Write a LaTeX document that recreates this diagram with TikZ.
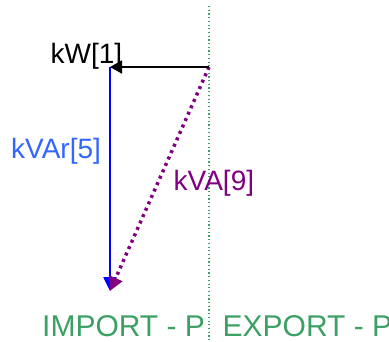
\documentclass[tikz,border=0pt]{standalone}
\usepackage{fontspec}
\setmainfont{Liberation Sans}
\usetikzlibrary{arrows.meta}
\definecolor{axgreen}{RGB}{60,160,100}
\definecolor{qblue}{RGB}{0,0,255}
\definecolor{qlabel}{RGB}{51,102,255}
\definecolor{spurple}{RGB}{128,0,128}
\begin{document}
\begin{tikzpicture}[x=1pt,y=-1pt,
  lbl/.style={inner sep=0pt,anchor=base west,font=\fontsize{28}{28}\selectfont},
  axlbl/.style={inner sep=0pt,anchor=base west,font=\fontsize{30}{30}\selectfont,text=axgreen},
  tipA/.style={-{Triangle[length=12pt,width=13pt]}}]
\useasboundingbox (0,0) rectangle (389,341);
\coordinate (top) at (209,6);
\coordinate (bot) at (209,341);
\coordinate (O) at (209,67);
\coordinate (A) at (110,67);
\coordinate (B) at (110,291);
\draw[axgreen,line width=1.2pt,dash pattern=on 1.2pt off 2.5pt] (top) -- (bot);
\draw[qblue,line width=2.5pt,-{Triangle[length=14pt,width=13pt]}] (A) -- (B);
\draw[spurple,line width=3.5pt,dash pattern=on 3pt off 4pt,-{Triangle[length=14pt,width=14pt]}] (O) -- (B);
\draw[black,line width=1.8pt,tipA] (O) -- (A);
\node[lbl] (kw) at (50.5,63) {kW[1]};
\node[lbl,text=qlabel] (kvar) at (11,158) {kVAr[5]};
\node[lbl,text=spurple] (kva) at (173.5,190) {kVA[9]};
\node[axlbl] (imp) at (42,336) {IMPORT - P};
\node[axlbl] (exp) at (222.5,336) {EXPORT - P};
\end{tikzpicture}
\end{document}
